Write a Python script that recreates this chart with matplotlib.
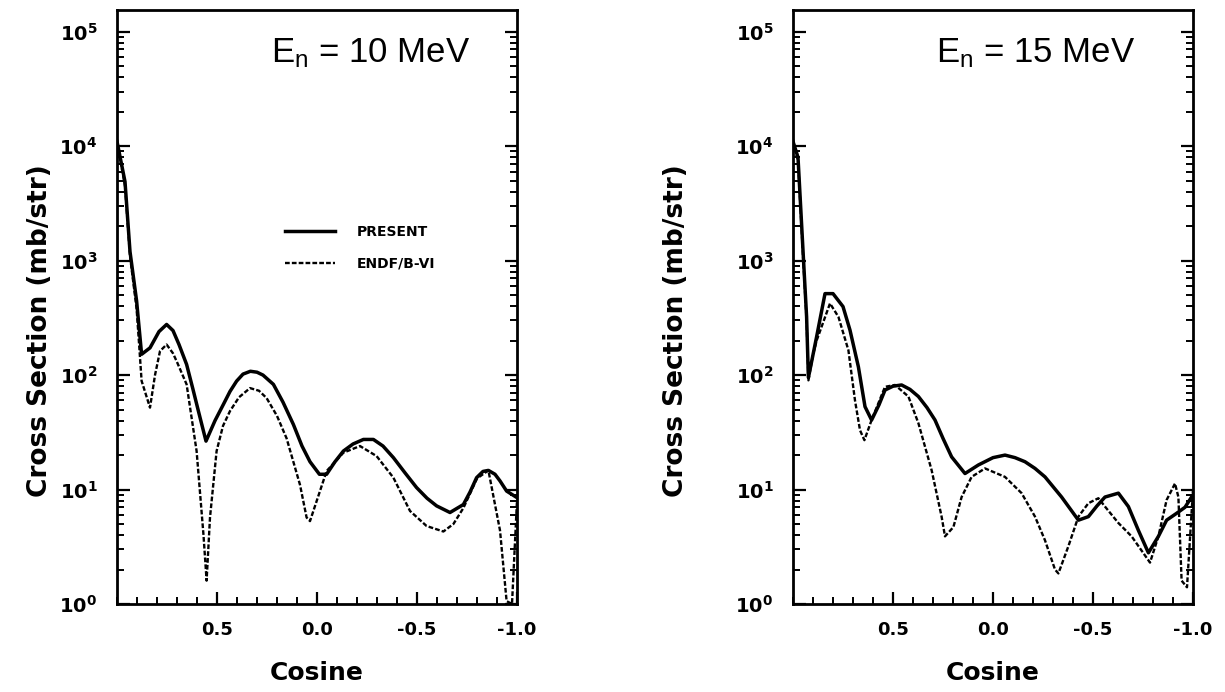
import matplotlib
matplotlib.use("Agg")
import matplotlib.pyplot as plt
from matplotlib.ticker import LogLocator, FixedLocator, FuncFormatter, MultipleLocator, NullFormatter

plt.rcParams['font.family'] = ['DejaVu Sans']
plt.rcParams['mathtext.fontset'] = 'custom'
plt.rcParams['mathtext.rm'] = 'Liberation Sans'
plt.rcParams['mathtext.bf'] = 'DejaVu Sans:bold'

# ---------------- data ----------------
# 10 MeV panel
cos10_present = [1.00, 0.96, 0.935, 0.902, 0.877, 0.835, 0.79, 0.752, 0.72, 0.69, 0.652, 0.62,
                 0.593, 0.555, 0.51, 0.468, 0.435, 0.402, 0.37, 0.333, 0.30, 0.27, 0.218, 0.17,
                 0.118, 0.075, 0.035, -0.012, -0.048, -0.09, -0.132, -0.18, -0.232, -0.282,
                 -0.33, -0.382, -0.44, -0.498, -0.55, -0.598, -0.665, -0.732, -0.765,
                 -0.798, -0.83, -0.857, -0.89, -0.915, -0.948, -1.0]
xs10_present = [11000, 4900, 1200, 445, 152, 173, 240, 277, 245, 185, 124, 75,
                48.5, 26.5, 40, 55.5, 72, 88.6, 102, 108, 106, 100, 83, 58,
                37, 24, 17.5, 13.6, 13.6, 17.5, 21.7, 25, 27.4, 27.4,
                24, 19, 14, 10.4, 8.4, 7.2, 6.3, 7.4, 9.5,
                12.7, 14.4, 14.7, 13.6, 11.9, 9.7, 8.5]

cos10_endf = [1.00, 0.96, 0.935, 0.902, 0.888, 0.877, 0.835, 0.81, 0.785, 0.752, 0.72, 0.70,
              0.652, 0.602, 0.568, 0.552, 0.535, 0.502, 0.47, 0.435, 0.39, 0.335, 0.29, 0.252,
              0.20, 0.152, 0.085, 0.052, 0.035, -0.048, -0.132, -0.215, -0.298, -0.382,
              -0.465, -0.548, -0.632, -0.682, -0.732, -0.80, -0.857, -0.915, -0.948,
              -0.975, -1.0]
xs10_endf = [11000, 4500, 1100, 380, 170, 89, 52, 100, 162, 185, 155, 130,
             83, 21.7, 4.1, 1.6, 5.7, 21.7, 36, 48.5, 64, 77, 73, 63,
             44, 28, 11, 5.7, 5.3, 14.5, 21, 24, 19.6, 12.7,
             6.5, 4.8, 4.3, 5.0, 6.9, 12.5, 14.7, 4.4, 1.06,
             1.0, 8]

# 15 MeV panel
cos15_present = [1.00, 0.975, 0.95, 0.932, 0.923, 0.882, 0.84, 0.80, 0.75, 0.715, 0.673,
                 0.64, 0.607, 0.57, 0.54, 0.50, 0.457, 0.415, 0.373, 0.33, 0.29, 0.25, 0.207,
                 0.14, 0.073, 0.0, -0.06, -0.11, -0.16, -0.21, -0.26, -0.343, -0.427,
                 -0.477, -0.52, -0.56, -0.627, -0.677, -0.727, -0.777, -0.827, -0.868,
                 -0.918, -0.96, -1.0]
xs15_present = [11000, 8000, 1230, 323, 95, 216, 515, 515, 397, 247, 118,
                53, 40.5, 55, 74, 80, 82, 75, 65, 52, 40.5, 28, 19.3,
                13.8, 16.4, 19, 20, 19, 17.5, 15.3, 12.9, 8.6, 5.4,
                5.8, 7.2, 8.6, 9.3, 7.1, 4.4, 2.8, 3.9, 5.4,
                6.2, 7.0, 9.0]

cos15_endf = [1.00, 0.975, 0.95, 0.932, 0.923, 0.90, 0.882, 0.815, 0.773, 0.723, 0.69,
              0.665, 0.643, 0.607, 0.54, 0.49, 0.423, 0.373, 0.307, 0.257, 0.24,
              0.198, 0.157, 0.107, 0.04, -0.06, -0.143, -0.21, -0.26, -0.31,
              -0.327, -0.377, -0.427, -0.477, -0.527, -0.56, -0.627, -0.693, -0.785,
              -0.827, -0.868, -0.91, -0.927, -0.943, -0.97, -1.0]
xs15_endf = [11000, 7500, 1100, 300, 90, 150, 200, 423, 323, 165, 60,
             33, 27, 40.5, 79, 82, 65, 38, 14.8, 5.8, 3.9,
             4.7, 8.6, 12.9, 15.3, 12.9, 9.3, 5.8, 3.6, 2.0,
             1.85, 3.2, 5.8, 7.6, 8.4, 7.1, 5.1, 3.9, 2.3,
             3.9, 8.1, 11.3, 8.6, 1.6, 1.4, 10]

panel_titles = ['10 MeV', '15 MeV']
legend_labels = ['PRESENT', 'ENDF/B-VI']
xtick_vals = [0.5, 0.0, -0.5, -1.0]
xtick_labels = ['0.5', '0.0', '-0.5', '-1.0']

# ---------------- figure ----------------
fig = plt.figure(figsize=(12.25, 6.92), dpi=100)
ax_l = fig.add_axes([117/1225, 88/692, 400/1225, 594/692])
ax_r = fig.add_axes([793/1225, 88/692, 400/1225, 594/692])

panels = [
    (ax_l, cos10_present, xs10_present, cos10_endf, xs10_endf, panel_titles[0], 0.8825, -0.16),
    (ax_r, cos15_present, xs15_present, cos15_endf, xs15_endf, panel_titles[1], 0.855, -0.26),
]

def ylab(v, pos):
    import math
    e = int(round(math.log10(v)))
    return r'$\mathbf{10^{%d}}$' % e

for ax, cp, vp, ce, ve, title, tx, lx in panels:
    ax.plot(cp, vp, color='black', lw=2.5, solid_joinstyle='round', label=legend_labels[0])
    ax.plot(ce, ve, color='black', lw=1.7, linestyle=(0, (2.0, 0.9)), label=legend_labels[1])
    ax.set_yscale('log')
    ax.set_xlim(1.0, -1.0)
    ax.set_ylim(1.0, 10 ** 5.19)
    ax.yaxis.set_major_locator(LogLocator(base=10, numticks=10))
    ax.yaxis.set_minor_locator(LogLocator(base=10, subs=range(2, 10), numticks=20))
    ax.yaxis.set_major_formatter(FuncFormatter(ylab))
    ax.yaxis.set_minor_formatter(NullFormatter())
    ax.xaxis.set_major_locator(FixedLocator(xtick_vals))
    ax.set_xticklabels(xtick_labels, fontweight='bold', fontsize=13)
    ax.xaxis.set_minor_locator(MultipleLocator(0.1))
    ax.tick_params(which='major', direction='in', length=9, width=1.6, right=True, top=False,
                   pad=12)
    ax.tick_params(which='minor', direction='in', length=5, width=1.4, right=True, top=False)
    ax.tick_params(axis='y', which='major', pad=14, labelsize=14)
    for s in ax.spines.values():
        s.set_linewidth(2.0)
    ax.set_xlabel('Cosine', fontsize=18, fontweight='bold', labelpad=16)
    ax.set_ylabel('Cross Section (mb/str)', fontsize=19, fontweight='bold')
    ax.yaxis.set_label_coords(lx, 0.46)
    ax.text(tx, 0.912, r'$\mathrm{E_n}$ = ' + title, transform=ax.transAxes,
            ha='right', va='baseline', fontsize=25, family='Liberation Sans')

ax_l.legend(loc='upper left', bbox_to_anchor=(0.42, 0.638), frameon=False,
            prop={'weight': 'bold', 'size': 10}, handlelength=3.6, handletextpad=1.6,
            labelspacing=1.25, borderpad=0, borderaxespad=0)

fig.savefig('out.png', dpi=100)
